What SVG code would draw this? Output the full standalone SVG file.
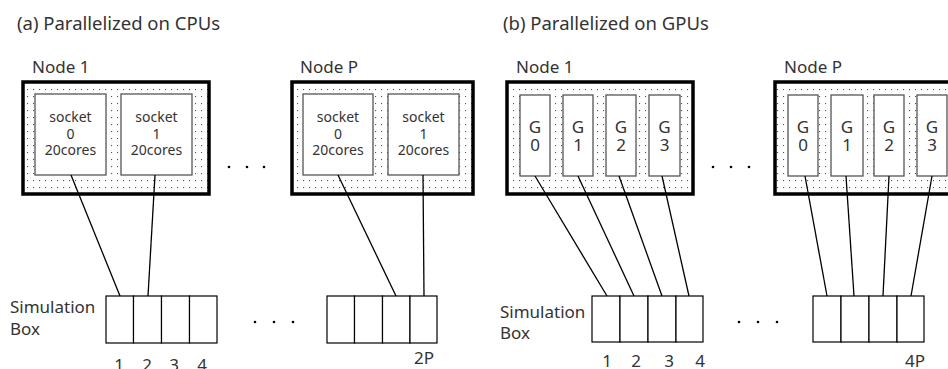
<svg xmlns="http://www.w3.org/2000/svg" width="948" height="369" viewBox="0 0 948 369">
<defs>
<pattern id="dots" x="1" y="2" width="6" height="7" patternUnits="userSpaceOnUse">
<rect x="2" y="3" width="1.1" height="1.1" fill="#555"/>
</pattern>
<style>
text{font-family:"Noto Sans","DejaVu Sans",sans-serif;fill:#333;}
.t{font-size:18.5px;}
.l{font-size:17px;}
.s{font-size:14px;text-anchor:middle;}
.g{font-size:17px;text-anchor:middle;}
.n{font-size:17px;text-anchor:middle;}
.node{fill:url(#dots);stroke:#000;stroke-width:3.5;}
.box{fill:#fff;stroke:#555;stroke-width:1.3;}
.cell{fill:#fff;stroke:#000;stroke-width:1.2;}
.c{stroke:#000;stroke-width:1.3;fill:none;}
.dot{fill:#000;}
</style>
</defs>
<rect width="948" height="369" fill="#fff"/>
<text class="t" x="17" y="30">(a) Parallelized on CPUs</text>
<text class="t" x="503" y="30">(b) Parallelized on GPUs</text>

<g id="cpu-node1">
<text class="l" x="32" y="73">Node 1</text>
<rect class="node" x="23" y="82" width="186" height="112"/>
<rect class="box" x="35" y="94" width="71" height="81"/>
<rect class="box" x="121" y="94" width="71" height="81"/>
<text class="s" x="70.5" y="122">socket</text>
<text class="s" x="70.5" y="139">0</text>
<text class="s" x="70.5" y="155">20cores</text>
<text class="s" x="156.5" y="122">socket</text>
<text class="s" x="156.5" y="139">1</text>
<text class="s" x="156.5" y="155">20cores</text>
</g>
<g id="cpu-nodeP">
<text class="l" x="300" y="73">Node P</text>
<rect class="node" x="292" y="82" width="181" height="112"/>
<rect class="box" x="303" y="94" width="70" height="81"/>
<rect class="box" x="388" y="94" width="71" height="81"/>
<text class="s" x="338" y="122">socket</text>
<text class="s" x="338" y="139">0</text>
<text class="s" x="338" y="155">20cores</text>
<text class="s" x="423.5" y="122">socket</text>
<text class="s" x="423.5" y="139">1</text>
<text class="s" x="423.5" y="155">20cores</text>
</g>
<g id="cpu-dots">
<circle class="dot" cx="229" cy="167" r="1.3"/><circle class="dot" cx="247" cy="167" r="1.3"/><circle class="dot" cx="264" cy="167" r="1.3"/>
</g>

<g id="gpu-node1">
<text class="l" x="516" y="73">Node 1</text>
<rect class="node" x="507" y="82" width="186" height="112"/>
<rect class="box" x="520" y="95" width="30" height="81"/>
<rect class="box" x="563" y="95" width="30" height="81"/>
<rect class="box" x="606" y="95" width="30" height="81"/>
<rect class="box" x="649" y="95" width="31" height="81"/>
<text class="g" x="535" y="133">G</text><text class="g" x="535" y="151">0</text>
<text class="g" x="578" y="133">G</text><text class="g" x="578" y="151">1</text>
<text class="g" x="621" y="133">G</text><text class="g" x="621" y="151">2</text>
<text class="g" x="664.5" y="133">G</text><text class="g" x="664.5" y="151">3</text>
</g>
<g id="gpu-nodeP">
<text class="l" x="784" y="73">Node P</text>
<rect class="node" x="775" y="82" width="190" height="112"/>
<rect class="box" x="788" y="95" width="30" height="81"/>
<rect class="box" x="831" y="95" width="32" height="81"/>
<rect class="box" x="874" y="95" width="30" height="81"/>
<rect class="box" x="917" y="95" width="30" height="81"/>
<text class="g" x="803" y="133">G</text><text class="g" x="803" y="151">0</text>
<text class="g" x="847" y="133">G</text><text class="g" x="847" y="151">1</text>
<text class="g" x="889" y="133">G</text><text class="g" x="889" y="151">2</text>
<text class="g" x="932" y="133">G</text><text class="g" x="932" y="151">3</text>
</g>
<g id="gpu-dots">
<circle class="dot" cx="713" cy="167" r="1.3"/><circle class="dot" cx="731" cy="167" r="1.3"/><circle class="dot" cx="749" cy="167" r="1.3"/>
</g>

<g id="cpu-sim">
<text class="l" x="10" y="313">Simulation</text>
<text class="l" x="10" y="335">Box</text>
<rect class="cell" x="106" y="296" width="27.5" height="47"/>
<rect class="cell" x="133.5" y="296" width="28" height="47"/>
<rect class="cell" x="161.5" y="296" width="28" height="47"/>
<rect class="cell" x="189.5" y="296" width="27.5" height="47"/>
<rect class="cell" x="327" y="296" width="27.5" height="47"/>
<rect class="cell" x="354.5" y="296" width="28" height="47"/>
<rect class="cell" x="382.5" y="296" width="27.5" height="47"/>
<rect class="cell" x="410" y="296" width="27" height="47"/>
<circle class="dot" cx="255" cy="322" r="1.3"/><circle class="dot" cx="274" cy="322" r="1.3"/><circle class="dot" cx="293" cy="322" r="1.3"/>
<text class="n" x="119" y="371">1</text>
<text class="n" x="147" y="371">2</text>
<text class="n" x="174" y="371">3</text>
<text class="n" x="202" y="371">4</text>
<text class="n" x="424" y="364">2P</text>
</g>
<g id="gpu-sim">
<text class="l" x="500" y="318">Simulation</text>
<text class="l" x="500" y="339">Box</text>
<rect class="cell" x="592" y="296" width="28" height="46"/>
<rect class="cell" x="620" y="296" width="28" height="46"/>
<rect class="cell" x="648" y="296" width="28" height="46"/>
<rect class="cell" x="676" y="296" width="27" height="46"/>
<rect class="cell" x="813" y="296" width="28" height="46"/>
<rect class="cell" x="841" y="296" width="28" height="46"/>
<rect class="cell" x="869" y="296" width="28" height="46"/>
<rect class="cell" x="897" y="296" width="27" height="46"/>
<circle class="dot" cx="739" cy="322" r="1.3"/><circle class="dot" cx="758" cy="322" r="1.3"/><circle class="dot" cx="777" cy="322" r="1.3"/>
<text class="n" x="607" y="367">1</text>
<text class="n" x="636" y="367">2</text>
<text class="n" x="669" y="367">3</text>
<text class="n" x="700" y="367">4</text>
<text class="n" x="915" y="367">4P</text>
</g>

<g id="connectors">
<line class="c" x1="71" y1="175" x2="120" y2="296"/>
<line class="c" x1="155" y1="175" x2="148" y2="296"/>
<line class="c" x1="338" y1="175" x2="396" y2="296"/>
<line class="c" x1="423" y1="175" x2="424" y2="296"/>
<line class="c" x1="535" y1="176" x2="607" y2="296"/>
<line class="c" x1="578" y1="176" x2="634" y2="296"/>
<line class="c" x1="619" y1="176" x2="662" y2="296"/>
<line class="c" x1="662" y1="176" x2="689" y2="296"/>
<line class="c" x1="805" y1="176" x2="827" y2="296"/>
<line class="c" x1="846" y1="176" x2="854" y2="296"/>
<line class="c" x1="889" y1="176" x2="883" y2="296"/>
<line class="c" x1="932" y1="176" x2="911" y2="296"/>
</g>
</svg>
